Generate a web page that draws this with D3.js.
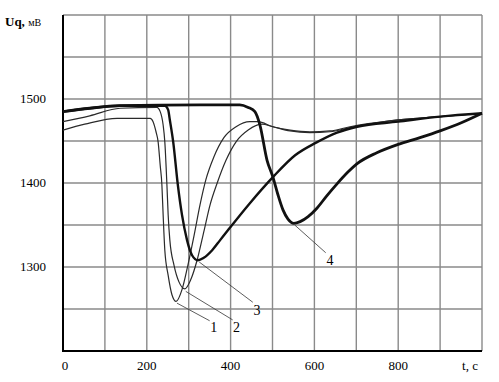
<!DOCTYPE html>
<html>
<head>
<meta charset="utf-8">
<script src="https://cdn.jsdelivr.net/npm/d3@7"></script>
<style>
  html, body { margin: 0; padding: 0; background: #fff; }
  svg text { font-family: "Liberation Serif", "Times New Roman", "DejaVu Serif", serif; }
</style>
</head>
<body>
<div id="chart"></div>
<script>
// Uq(t) response curves 1-4.

const X_TICKS = [0, 200, 400, 600, 800];
const Y_TICKS = [1300, 1400, 1500];
const X_GRID = [0, 100, 200, 300, 400, 500, 600, 700, 800, 900, 1000];
const Y_GRID = [1200, 1250, 1300, 1350, 1400, 1450, 1500, 1550, 1600];

// [t, Uq]
const curve1 = [
  [0, 1463], [52, 1470], [129, 1477], [208, 1477], [215, 1473], [222, 1461],
  [227, 1449], [232, 1421], [236, 1398], [239, 1362], [243, 1320], [251, 1290],
  [260, 1267], [270, 1259], [284, 1273], [298, 1302], [313, 1338], [327, 1374],
  [341, 1404], [360, 1431], [384, 1454], [413, 1467], [446, 1473], [465, 1473],
  [501, 1467], [542, 1463], [589, 1461], [637, 1462], [685, 1467], [780, 1474],
  [900, 1479], [1000, 1483]
];
const curve2 = [
  [0, 1473], [64, 1480], [136, 1489], [224, 1490], [232, 1485], [239, 1469],
  [243, 1449], [248, 1398], [251, 1362], [255, 1332], [265, 1302], [277, 1282],
  [291, 1274], [305, 1285], [320, 1308], [337, 1344], [351, 1374], [368, 1400],
  [389, 1427], [413, 1449], [442, 1463], [475, 1470], [501, 1467], [542, 1462],
  [589, 1460], [637, 1461], [685, 1466], [780, 1474], [900, 1479], [1000, 1483]
];
const curve3 = [
  [0, 1485], [64, 1489], [136, 1492], [243, 1492], [251, 1487], [255, 1475],
  [263, 1449], [274, 1398], [284, 1362], [296, 1332], [308, 1314], [322, 1308],
  [336, 1311], [356, 1320], [375, 1332], [394, 1344], [446, 1376], [501, 1407],
  [554, 1433], [604, 1448], [654, 1460], [702, 1467], [800, 1473], [900, 1479],
  [1000, 1483]
];
const curve4 = [
  [0, 1485], [64, 1489], [136, 1492], [327, 1493], [422, 1493], [442, 1490],
  [458, 1485], [470, 1469], [487, 1427], [501, 1407], [513, 1386], [525, 1368],
  [537, 1357], [551, 1352], [566, 1354], [585, 1360], [606, 1370], [630, 1385],
  [654, 1399], [680, 1413], [702, 1423], [749, 1436], [800, 1446], [852, 1454],
  [900, 1462], [952, 1472], [1000, 1483]
];

// label: text, leader start [t, U], leader end [t, U], text position [t, U]
const LABELS = [
  { text: "1", from: [272, 1257], to: [350, 1236], at: [360, 1228] },
  { text: "2", from: [293, 1271], to: [405, 1237], at: [414, 1228] },
  { text: "3", from: [325, 1306], to: [453, 1258], at: [463, 1249] },
  { text: "4", from: [553, 1350], to: [627, 1317], at: [637, 1308] }
];

const width = 499, height = 382;
const margin = { top: 15, right: 17, bottom: 31, left: 63 };

const x = d3.scaleLinear().domain([0, 1000]).range([margin.left, width - margin.right]);
const y = d3.scaleLinear().domain([1200, 1600]).range([height - margin.bottom, margin.top]);

const svg = d3.select("#chart").append("svg")
  .attr("width", width).attr("height", height)
  .style("display", "block");

// grid
svg.append("g").selectAll("line").data(X_GRID).join("line")
  .attr("x1", d => x(d)).attr("x2", d => x(d))
  .attr("y1", y(1200)).attr("y2", y(1600))
  .attr("stroke", "#8a8a8a").attr("stroke-width", 1.4);
svg.append("g").selectAll("line").data(Y_GRID).join("line")
  .attr("x1", x(0)).attr("x2", x(1000))
  .attr("y1", d => y(d)).attr("y2", d => y(d))
  .attr("stroke", "#8a8a8a").attr("stroke-width", 1.4);

// main axes
svg.append("line").attr("x1", x(0)).attr("x2", x(0)).attr("y1", y(1200) + 1).attr("y2", y(1600))
  .attr("stroke", "#000").attr("stroke-width", 2);
svg.append("line").attr("x1", x(0) - 1).attr("x2", x(1000)).attr("y1", y(1200)).attr("y2", y(1200))
  .attr("stroke", "#000").attr("stroke-width", 2);

// tick labels
svg.append("g").selectAll("text").data(X_TICKS).join("text")
  .attr("x", d => x(d) + (d === 0 ? 2 : 0)).attr("y", height - 12)
  .attr("text-anchor", "middle").attr("font-size", 13).text(d => d);
svg.append("g").selectAll("text").data(Y_TICKS).join("text")
  .attr("x", 46).attr("y", d => y(d) + 4)
  .attr("text-anchor", "end").attr("font-size", 13).text(d => d);

svg.append("text").attr("x", x(1000) - 12).attr("y", height - 12)
  .attr("text-anchor", "middle").attr("font-size", 13).text("t, c");
const yl = svg.append("text").attr("x", 5).attr("y", 26).attr("font-size", 13);
yl.append("tspan").attr("font-weight", "bold").text("Uq, ");
yl.append("tspan").attr("font-size", 10).text("мВ");

// curves
const line = d3.line().x(d => x(d[0])).y(d => y(d[1])).curve(d3.curveMonotoneX);
const series = [
  { data: curve1, w: 1.2, c: "#2a2a2a" },
  { data: curve2, w: 1.2, c: "#2a2a2a" },
  { data: curve3, w: 2.4, c: "#111" },
  { data: curve4, w: 2.8, c: "#111" }
];
svg.append("g").selectAll("path").data(series).join("path")
  .attr("d", d => line(d.data))
  .attr("fill", "none")
  .attr("stroke", d => d.c)
  .attr("stroke-width", d => d.w)
  .attr("stroke-linejoin", "round");

// leaders and labels
const ann = svg.append("g");
ann.selectAll("line").data(LABELS).join("line")
  .attr("x1", d => x(d.from[0])).attr("y1", d => y(d.from[1]))
  .attr("x2", d => x(d.to[0])).attr("y2", d => y(d.to[1]))
  .attr("stroke", "#333").attr("stroke-width", 0.8);
ann.selectAll("text").data(LABELS).join("text")
  .attr("x", d => x(d.at[0])).attr("y", d => y(d.at[1]) + 5)
  .attr("text-anchor", "middle").attr("font-size", 14).text(d => d.text);
</script>
</body>
</html>
